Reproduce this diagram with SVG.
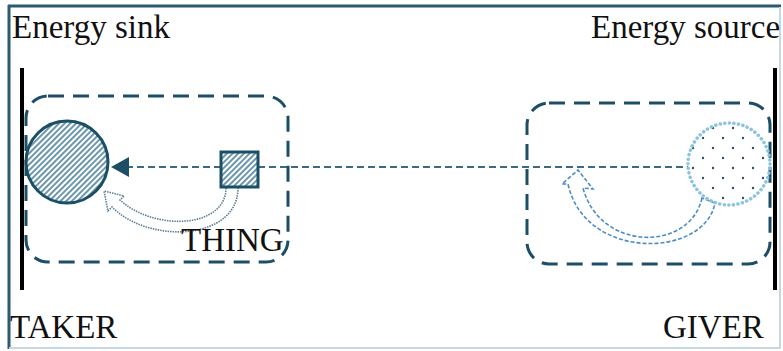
<svg xmlns="http://www.w3.org/2000/svg" width="783" height="351" viewBox="0 0 783 351">
<style>
.lbl{font-family:"Liberation Serif","Times New Roman",serif;font-size:33px;fill:#111}
.box{fill:none;stroke:#1d4e66;stroke-width:3;stroke-dasharray:16 9}
.bar{stroke:#000;stroke-width:4}
</style>
<defs>
<pattern id="hatch" patternUnits="userSpaceOnUse" width="4" height="4" patternTransform="rotate(45)">
<rect width="4" height="4" fill="#fff"/>
<line x1="1" y1="0" x2="1" y2="4" stroke="#2c6a88" stroke-width="1.4"/>
</pattern>
<pattern id="dots" patternUnits="userSpaceOnUse" width="20" height="20" x="718" y="153">
<circle cx="5" cy="5" r="1.2" fill="#2a4f66"/>
<circle cx="15" cy="15" r="1.2" fill="#2a4f66"/>
</pattern>
</defs>
<rect x="0" y="0" width="783" height="351" fill="#fff"/>
<g id="frame">
<line x1="8" y1="6" x2="781" y2="6" stroke="#2a5b72" stroke-width="3"/>
<line x1="9" y1="5" x2="9" y2="349" stroke="#2a5b72" stroke-width="3"/>
<line x1="780" y1="7" x2="780" y2="348" stroke="#c5d8e6" stroke-width="2"/>
<line x1="9" y1="348" x2="781" y2="348" stroke="#c5d8e6" stroke-width="2"/>
</g>
<g id="labels">
<text class="lbl" x="12" y="38">Energy sink</text>
<text class="lbl" x="591" y="38">Energy source</text>
<text class="lbl" x="10" y="338">TAKER</text>
<text class="lbl" x="663" y="338">GIVER</text>
</g>
<g id="taker-bar"><line class="bar" x1="22" y1="68" x2="22" y2="290"/></g>
<g id="giver-bar"><line class="bar" x1="775" y1="68" x2="775" y2="290"/></g>
<g id="taker-box"><rect class="box" x="26" y="96" width="262" height="166" rx="22"/></g>
<g id="giver-box"><rect class="box" x="527" y="103" width="243" height="161" rx="22"/></g>
<g id="connectors">
<line x1="126" y1="167" x2="688" y2="167" stroke="#3a6a86" stroke-width="2" stroke-dasharray="7 4"/>
<polygon points="111,167 129,157 129,177" fill="#1d4e66"/>
<path d="M226 188 C226 228 155 232 120 200 L124 196 L104 191 L108 211 L112 207 C150 245 238 240 238 188" fill="none" stroke="#5f7f94" stroke-width="1.6" stroke-dasharray="1.5 1"/>
<path d="M702 198 C690 252 600 252 583 188 L593 189 L578 170 L562 184 L568 184 C585 262 705 258 715 203 Z" fill="none" stroke="#4b8cc6" stroke-width="1.6" stroke-dasharray="4 2"/>
</g>
<g id="taker">
<circle cx="67" cy="162" r="41" fill="url(#hatch)" stroke="#1b4f66" stroke-width="3"/>
</g>
<g id="thing">
<rect x="221" y="152" width="37" height="35" fill="url(#hatch)" stroke="#1b4f66" stroke-width="3"/>
<text class="lbl" x="181" y="251">THING</text>
</g>
<g id="giver">
<circle cx="729" cy="164" r="41" fill="url(#dots)" stroke="#8cc3dd" stroke-width="3.5" stroke-dasharray="0.1 4.5" stroke-linecap="round"/>
</g>
</svg>
